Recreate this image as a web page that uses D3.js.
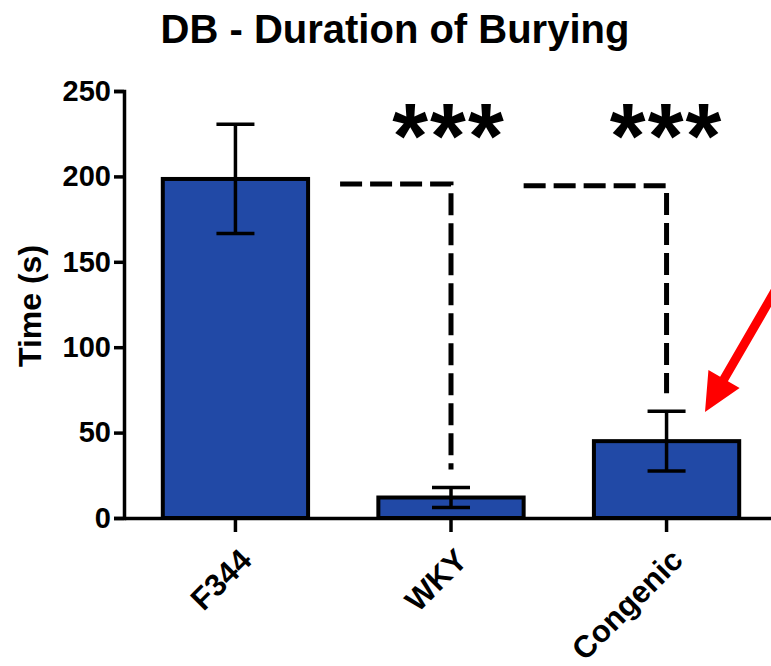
<!DOCTYPE html>
<html>
<head>
<meta charset="utf-8">
<script src="https://cdn.jsdelivr.net/npm/d3@7"></script>
<style>
  body { margin: 0; background: #fff; }
  text { font-family: "Liberation Sans", Arial, sans-serif; font-weight: bold; }
</style>
</head>
<body>
<div id="chart"></div>
<script>
// data
const groups = ["F344", "WKY", "Congenic"];
const means = [198.5, 12, 45];
const sems = [32, 5.8, 17.5];
const yTicks = [0, 50, 100, 150, 200, 250];
// significance brackets: from group, to group, height, label
const sigFrom = ["F344", "WKY"];
const sigTo = ["WKY", "Congenic"];
const sigY = [195.5, 194.5];
const sigLabels = ["***", "***"];

const width = 771, height = 666;
const svg = d3.select("#chart").append("svg")
  .attr("width", width).attr("height", height);

const x = d3.scaleBand()
  .domain(groups)
  .range([124, 778])
  .paddingInner(0.326)
  .paddingOuter(0.18);

const y = d3.scaleLinear()
  .domain([0, 250])
  .range([518, 91]);

// title
svg.append("text")
  .attr("x", 395).attr("y", 43)
  .attr("text-anchor", "middle")
  .style("font-size", "40px")
  .text("DB - Duration of Burying");

// y label
svg.append("text")
  .attr("transform", "translate(41,306) rotate(-90)")
  .attr("text-anchor", "middle")
  .style("font-size", "32px")
  .text("Time (s)");

// bars
svg.selectAll("rect.bar")
  .data(groups)
  .enter().append("rect")
  .attr("class", "bar")
  .attr("x", d => x(d))
  .attr("y", (d, i) => y(means[i]))
  .attr("width", x.bandwidth())
  .attr("height", (d, i) => y(0) - y(means[i]))
  .attr("fill", "#2149a6")
  .attr("stroke", "#000")
  .attr("stroke-width", 4);

// error bars
const eb = svg.append("g").attr("stroke", "#000").attr("stroke-width", 3.5);
groups.forEach((g, i) => {
  const cx = x(g) + x.bandwidth() / 2;
  eb.append("line")
    .attr("x1", cx).attr("x2", cx)
    .attr("y1", y(means[i] + sems[i])).attr("y2", y(means[i] - sems[i]));
  [means[i] + sems[i], means[i] - sems[i]].forEach(v => {
    eb.append("line")
      .attr("x1", cx - 19).attr("x2", cx + 19)
      .attr("y1", y(v)).attr("y2", y(v));
  });
});

// axes
const yAxis = svg.append("g")
  .attr("transform", "translate(124,0)")
  .call(d3.axisLeft(y).tickValues(yTicks).tickSize(10).tickPadding(3));
yAxis.select(".domain").attr("stroke-width", 3.5);
yAxis.selectAll(".tick line").attr("stroke-width", 3.5);
yAxis.selectAll("text").style("font-size", "29px").attr("fill", "#000");

const xAxis = svg.append("g")
  .attr("transform", "translate(0,518)")
  .call(d3.axisBottom(x).tickSize(14).tickSizeOuter(0));
xAxis.select(".domain").attr("stroke-width", 3.5);
xAxis.selectAll(".tick line").attr("stroke-width", 3.5);
xAxis.selectAll("text")
  .style("font-size", "31px")
  .attr("fill", "#000")
  .attr("text-anchor", "end")
  .attr("dy", 0)
  .attr("transform", "translate(6,32) rotate(-45)");

// significance brackets
const sigGap = [32, 0];
const sig = svg.append("g");
sigFrom.forEach((f, i) => {
  const j = groups.indexOf(sigTo[i]);
  const cxTo = x(sigTo[i]) + x.bandwidth() / 2;
  const bottom = y(means[j] + sems[j]) - 18;
  const xStart = x(f) + x.bandwidth() + sigGap[i];
  sig.append("path")
    .attr("d", `M${xStart},${y(sigY[i])}H${cxTo}V${bottom}`)
    .attr("fill", "none")
    .attr("stroke", "#000")
    .attr("stroke-width", 5)
    .attr("stroke-dasharray", "22,8");
  sig.append("text")
    .attr("x", cxTo - (i === 0 ? 2 : 0))
    .attr("y", 168)
    .attr("text-anchor", "middle")
    .style("font-size", "92px")
    .style("letter-spacing", "2px")
    .text(sigLabels[i]);
});

// red arrow annotation pointing at the Congenic bar
const tail = [790, 265], tip = [705, 412];
const len = Math.hypot(tip[0] - tail[0], tip[1] - tail[1]);
const u = [(tip[0] - tail[0]) / len, (tip[1] - tail[1]) / len];
const n = [-u[1], u[0]];
const headL = 38, headW = 18, shaftW = 4.5;
const base = [tip[0] - headL * u[0], tip[1] - headL * u[1]];
const pts = [
  [tail[0] + shaftW * n[0], tail[1] + shaftW * n[1]],
  [base[0] + shaftW * n[0], base[1] + shaftW * n[1]],
  [base[0] + headW * n[0], base[1] + headW * n[1]],
  tip,
  [base[0] - headW * n[0], base[1] - headW * n[1]],
  [base[0] - shaftW * n[0], base[1] - shaftW * n[1]],
  [tail[0] - shaftW * n[0], tail[1] - shaftW * n[1]]
];
svg.append("path")
  .attr("d", d3.line()(pts) + "Z")
  .attr("fill", "#ff0000");
</script>
</body>
</html>
